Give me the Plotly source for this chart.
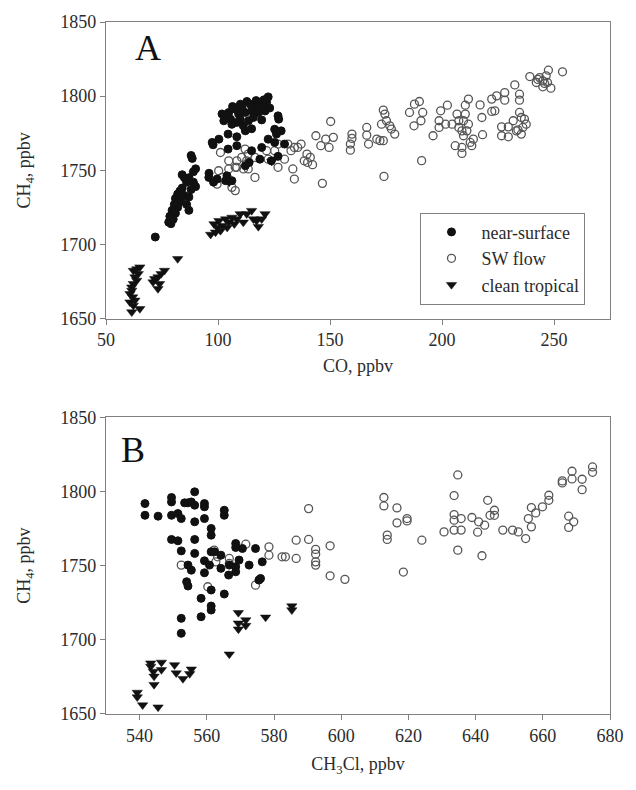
import plotly.graph_objects as go

# ---------------- Panel A: CH4 vs CO ----------------
co_near = [72, 88, 88.5, 90, 89, 84, 87, 86, 90, 88, 83, 85, 87, 81, 83.5, 80.5, 82, 79.5, 87, 81,
           78.5, 80, 78, 79, 84, 86, 82, 85, 89,
           97.4, 100.4, 104.5, 104.5, 108.4, 115, 119.5, 122.4, 126.8, 127.1, 125.3, 128.2, 126.1,
           125.3, 129.7, 118.7, 123.8, 95.9, 99.6, 104, 106.2, 97.8, 108.4, 113.9, 112.2, 103.4, 96, 98,
           126.8,
           122.4, 121.7, 119.5, 116.5, 112.9, 110.7, 107.8, 104.8, 103.4, 105.6, 109.2, 112.2, 115.1,
           118, 121, 118.7, 108.4, 111.3, 113.6, 115.8, 109.9, 106.2, 115, 112.2, 102.6, 101.8, 119.5,
           123.1, 114.4, 110, 117, 120.5, 106.5]
ch4_near_a = [1705, 1760, 1758, 1751, 1749, 1747, 1745, 1742, 1739, 1737, 1736, 1733, 1732, 1731, 1729,
              1727, 1725, 1723, 1723, 1721, 1719, 1717, 1715, 1714, 1738, 1727, 1734, 1745, 1742,
              1768.8, 1771, 1774.4, 1764.3, 1766.6, 1763.2, 1765.4, 1771, 1786.7, 1784.5, 1777.7, 1776.6,
              1774.4, 1768.8, 1767.7, 1757.5, 1756.4, 1745.2, 1744.1, 1746.3, 1743, 1767.2, 1772.6,
              1755.3, 1753.1, 1743, 1748, 1742, 1759.4,
              1799.5, 1795.7, 1792.4, 1793.5, 1796.4, 1792.4, 1791.2, 1789, 1785.6, 1784.5, 1787.9, 1789,
              1790.1, 1789, 1790, 1793.5, 1782.3, 1780, 1783.4, 1785.6, 1784.5, 1781, 1778, 1776.6,
              1783.4, 1788, 1784, 1792, 1794.6, 1794.6, 1797, 1797.5, 1793]

co_sw = [101.1, 104.8, 108.4, 110.6, 112.8, 113.5, 112.1, 108.4, 111.4, 113.5, 116.5, 116.5, 100.3,
         101.8, 99.6, 106.2, 107.7, 107.7, 104.8, 126.8, 126.8, 129.7, 131.2, 132.6, 134.1, 135.6,
         133.4, 134.1, 125.3, 122.4, 138.5, 121.7,
         150.3, 151.5, 148.1, 149.6, 145.9, 143.7, 141.2, 140, 142.2, 146.6, 159.8, 159.8, 137.1, 139.7,
         159.1, 159.1, 166.4, 166.4, 167.2, 170.9, 172.3, 173.8, 174.5, 175.2, 173, 176.7, 177.4, 178.9,
         173.8, 174.1, 185.5, 187.7, 189.9, 191.4, 190.6, 187.5, 190.9, 196, 199.4, 202.4, 198.7,
         198.7, 201.6, 204.5, 206.7, 207.5, 207.5, 208.9, 209.6, 210.4, 211.8, 210.4, 211.8, 211.1,
         209.6, 205.9, 208.9, 208.9, 212.6, 214, 213.3, 217, 217.8, 218.1, 222.2, 224.4, 222.2, 223.6,
         228, 228, 226.6, 229.6, 226.6, 229.6, 232.5, 234.6, 234.6, 231.8, 234.6, 235.4, 236.8, 233.2,
         236.1, 237.6, 235.4, 233.9, 239.2, 242.1, 243.6, 245, 245, 246.5, 247.5, 248.6, 247.1, 253.8,
         245.8, 242.8]
ch4_sw_a = [1762, 1756.4, 1756.4, 1758.7, 1756.4, 1760.9, 1764.3, 1752, 1750.9, 1750.9, 1758.7, 1745.2,
            1749.7, 1745.2, 1740.7, 1738.5, 1736.3, 1752, 1750.9, 1767.7, 1752, 1757.5, 1767.7, 1763.2,
            1765.4, 1765.4, 1750.9, 1744.1, 1763.2, 1757.5, 1756.4, 1763.2,
            1782.9, 1772.2, 1771, 1765.4, 1766.6, 1773.3, 1758.7, 1755.3, 1753.8, 1741.2, 1774.4, 1771.5,
            1767.7, 1760.9,
            1767.7, 1763.6, 1778.9, 1773.7, 1767.7, 1771, 1770, 1790.6, 1787.9, 1783.4, 1781.1, 1780,
            1777.8, 1774.4, 1770, 1745.9, 1789, 1794.6, 1796.4, 1789, 1783.4, 1780, 1756.5, 1773.3,
            1790.1, 1793.9, 1783.4, 1778.9, 1781.1, 1781.1, 1787.9, 1783.4, 1778.9, 1776.6, 1783.4,
            1793.9, 1798, 1787.9, 1781.1, 1776.6, 1773.3, 1766.6, 1765.4, 1761.4, 1768.8, 1771, 1766.6,
            1794.1, 1785.6, 1774, 1798, 1800.2, 1789.7, 1790.1, 1802.4, 1797.3, 1779.3, 1779.3, 1773.3,
            1772.6, 1807.6, 1801.3, 1797.3, 1783.4, 1789, 1785.6, 1784.5, 1776.6, 1778.9, 1781.1, 1774.4,
            1777.3, 1813.2, 1809.2, 1812.5, 1810.3, 1806.3, 1813.7, 1817.5, 1805.4, 1809.2, 1816.4,
            1808.6, 1811.3]

co_trop = [65.1, 63.7, 62.2, 64.4, 62.9, 63.7, 62.2, 61.5, 60.7, 61.9, 60.7, 62.2, 61.5, 65.1, 62.9,
           61.5, 76.1, 74.6, 73.2, 71.7, 71, 73.9, 73.2, 82,
           96.7, 98.9, 101.1, 98.2, 100.4, 101.9, 103.4, 104.1, 106.2, 108.4, 109.9, 111.3, 112.8, 115,
           115.8, 117.2, 118, 119.5, 121, 107.3, 99.7, 104.8, 105, 124]
ch4_trop_a = [1684.7, 1683.4, 1682.4, 1680.2, 1678, 1675.7, 1673.5, 1669, 1666.7, 1664.5, 1661.1, 1658.9,
              1654.4, 1656.6, 1662.3, 1671.2, 1682.4, 1680.2, 1678, 1676.8, 1674.6, 1673.5, 1670.1,
              1690.3,
              1706.7, 1708.2, 1709.3, 1713.8, 1716, 1712.6, 1717.1, 1711.5, 1718.2, 1717.1, 1720.6,
              1714.9, 1720.6, 1722.8, 1717.1, 1716, 1712, 1717.1, 1720.6, 1713.8, 1711.5, 1715, 1742,
              1756]

# ---------------- Panel B: CH4 vs CH3Cl ----------------
ch3cl_near = [541.6, 541.6, 545.5, 549.5, 549.5, 549.5, 551.4, 552.4, 553.4, 554.4, 555.4, 556.4, 556.4,
              559.3, 559.3, 559.3, 556.4, 561.3, 561.3, 565.2, 565.2, 549.5, 551.4, 552.4, 556.4, 556.4,
              554.4, 555.4, 554, 554.4, 559.3, 559.3, 558.3, 558.3, 561.3, 561.3, 552.4, 552.4, 561.3,
              561.3, 564.2, 565.2, 566.5, 568.6, 568.6, 568.6, 568.6, 572.6, 570.6, 574.5, 576.5, 575.5,
              576, 569.6, 562.3, 564.2, 560.8, 566.7]
ch4_near_b = [1791.9, 1784, 1783.4, 1796, 1793, 1784, 1785.2, 1781.8, 1792.4, 1792.4, 1793, 1799.8,
              1790.8, 1791.9, 1789.7, 1781.8, 1779.6, 1775.1, 1770.6, 1787.4, 1784, 1767.7, 1766.8, 1760,
              1767.7, 1758.3, 1750.4, 1747, 1739.2, 1736.3, 1753.3, 1745.2, 1728, 1715.6, 1722.8, 1720.1,
              1714.5, 1704.4, 1733.6, 1759.4, 1748.2, 1730.9, 1743.7, 1749.3, 1745.9, 1765, 1762.3,
              1750.4, 1761.6, 1761.6, 1752.6, 1740.3, 1741.4, 1753.8, 1759.4, 1757.1, 1750.4, 1750.4]

ch3cl_sw = [552.4, 560.3, 562.2, 563.2, 562.7, 566.7, 566.7, 571.6, 574.5, 578.5, 578.5, 582.4, 583.4,
            586.6, 586.6, 590.3, 590.3, 592.4, 592.4, 592.4, 592.4, 596.7, 596.7, 601.1,
            612.7, 612.7, 613.7, 613.7, 616.6, 616.6, 619.6, 619.6, 618.5, 624, 630.6, 634.7, 633.6,
            633.6, 633.6, 633.6, 634.7, 635.7, 635.7, 638.9, 640.9, 640.6, 642.7, 641.9, 643.6, 644.3,
            645.6, 645.6, 648.1, 651, 652.7, 654.9, 655.7, 656.6, 656.6, 657.9, 659.9, 661.8, 661.8,
            665.8, 665.8, 668.7, 668.7, 671.7, 671.7, 667.7, 669.2, 667.7, 674.8, 674.8]
ch4_sw_b = [1750.4, 1735.8, 1760.5, 1756, 1752.6, 1754.9, 1751.5, 1764.5, 1736.9, 1762.7, 1757.1, 1756,
            1756, 1754.9, 1767.2, 1788.5, 1767.7, 1761, 1757.8, 1752.6, 1750.4, 1763.4, 1743.2, 1740.8,
            1796, 1790.3, 1770.6, 1767.7, 1789, 1778.9, 1781.8, 1780.2, 1745.7, 1767.2, 1772.8, 1811.2,
            1797.3, 1784.5, 1780.7, 1774, 1760.5, 1781.8, 1774, 1782.5, 1779.6, 1772.6, 1777.3, 1756.7,
            1794.1, 1784, 1787.4, 1784, 1774, 1774, 1772.8, 1768.3, 1781.8, 1789.2, 1776.2, 1785.6,
            1789.7, 1797.5, 1794.1, 1807.2, 1805.8, 1813.7, 1808.5, 1808.3, 1801.3, 1783.4, 1779.6,
            1775.8, 1816.6, 1813]

ch3cl_trop = [539.3, 539.3, 540.9, 545.5, 543.3, 543.3, 544.1, 544.3, 544.3, 546.5, 546.5, 550.4, 550.9,
              552.9, 554.9, 555.4, 566.7, 569.4, 569.4, 569.4, 571.6, 571.6, 577.5, 585.3, 585.3]
ch4_trop_b = [1664.5, 1661.4, 1656, 1654.6, 1684.3, 1682.1, 1678.7, 1675.4, 1669.8, 1684.8, 1679.8,
              1683.1, 1677.6, 1673.8, 1677.1, 1680.2, 1690.3, 1718.3, 1711.2, 1707.2, 1713.4, 1709.6,
              1715.2, 1722.8, 1720.1]

series_names = ["near-surface", "SW flow", "clean tropical"]

SERIF = "Liberation Serif, Times New Roman, serif"
AXIS_GREY = "#808080"
TEXT = "#2b2b2b"

near_marker = dict(symbol="circle", size=8, color="#111111", line=dict(color="#111111", width=1))
sw_marker = dict(symbol="circle-open", size=8, color="#555555", line=dict(width=1.3))
trop_marker = dict(symbol="triangle-down", size=9, color="#111111", line=dict(color="#111111", width=0.5))

fig = go.Figure()

panels = [
    ("x", "y", [(co_near, ch4_near_a), (co_sw, ch4_sw_a), (co_trop, ch4_trop_a)], True),
    ("x2", "y2", [(ch3cl_near, ch4_near_b), (ch3cl_sw, ch4_sw_b), (ch3cl_trop, ch4_trop_b)], False),
]
markers = [near_marker, sw_marker, trop_marker]

for xa, ya, data, show in panels:
    # open circles first so filled markers sit on top
    for idx in (1, 0, 2):
        xs, ys = data[idx]
        fig.add_trace(go.Scatter(
            x=xs, y=ys, mode="markers", name=series_names[idx],
            marker=markers[idx], xaxis=xa, yaxis=ya,
            legendgroup=series_names[idx], showlegend=show,
            legendrank=idx + 1,
        ))

axis_common = dict(
    showline=True, linecolor=AXIS_GREY, linewidth=1.2, mirror=True,
    ticks="outside", ticklen=5, tickcolor=AXIS_GREY, tickwidth=1,
    showgrid=False, zeroline=False,
    tickfont=dict(family=SERIF, size=18, color=TEXT),
    title_font=dict(family=SERIF, size=18, color=TEXT),
)

fig.update_layout(
    width=636, height=790,
    margin=dict(l=106, r=19, t=21, b=76),
    paper_bgcolor="white", plot_bgcolor="white",
    font=dict(family=SERIF, size=18, color=TEXT),
    xaxis=dict(domain=[0, 1], range=[50, 275], tickvals=[50, 100, 150, 200, 250],
               anchor="y", title=dict(text="CO, ppbv", standoff=10), **axis_common),
    yaxis=dict(domain=[0.5714, 1.0], range=[1650, 1850], dtick=50, anchor="x",
               title=dict(text="CH<sub>4</sub>, ppbv", standoff=24), **axis_common),
    xaxis2=dict(domain=[0, 1], range=[530, 680], tickvals=list(range(540, 681, 20)),
                anchor="y2", title=dict(text="CH<sub>3</sub>Cl, ppbv", standoff=12), **axis_common),
    yaxis2=dict(domain=[0, 0.4286], range=[1650, 1850], dtick=50, anchor="x2",
                title=dict(text="CH<sub>4</sub>, ppbv", standoff=24), **axis_common),
    legend=dict(
        x=0.624, y=0.7244, xanchor="left", yanchor="top",
        bgcolor="white", bordercolor=AXIS_GREY, borderwidth=1,
        font=dict(family=SERIF, size=18, color=TEXT),
        itemwidth=50, tracegroupgap=0,
    ),
    showlegend=True,
    annotations=[
        dict(text="A", xref="x domain", yref="y domain", x=0.053, y=0.985, xanchor="left",
             yanchor="top", showarrow=False, font=dict(family=SERIF, size=36, color="#111111")),
        dict(text="B", xref="x2 domain", yref="y2 domain", x=0.025, y=0.965, xanchor="left",
             yanchor="top", showarrow=False, font=dict(family=SERIF, size=36, color="#111111")),
    ],
)

fig.write_html("out.html")
